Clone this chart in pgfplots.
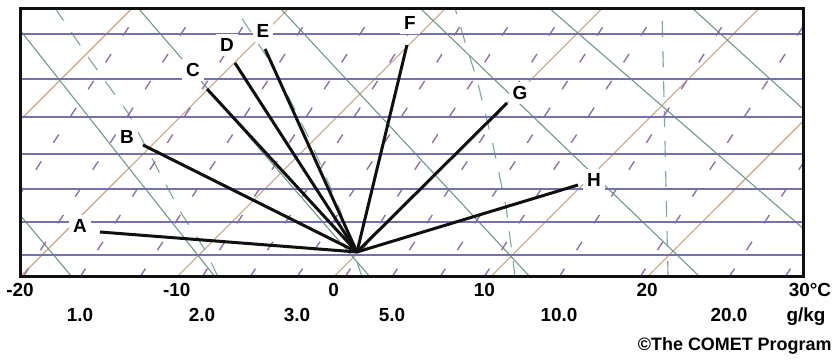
\documentclass[border=0pt]{standalone}
\usepackage{fontspec}
\setmainfont{Liberation Sans}
\usepackage{pgfplots}
\pgfplotsset{compat=1.18}
\definecolor{isobar}{HTML}{7570AE}
\definecolor{isotherm}{HTML}{C8A682}
\definecolor{dryad}{HTML}{6B9C86}
\definecolor{moistad}{HTML}{7AA894}
\definecolor{mixr}{HTML}{9070B0}
\definecolor{framecol}{HTML}{101010}
\begin{document}
\begin{tikzpicture}
\useasboundingbox (-20bp,-85bp) rectangle (816bp,277bp);
\begin{axis}[
  scale only axis, width=784bp, height=269bp,
  xmin=-20, xmax=30, ymin=0, ymax=269,
  axis line style={line width=2bp, framecol},
  ytick=\empty,
  xtick={-20,-10,0,10,20,30},
  xticklabels={-20,-10,0,10\hspace*{12bp},20,\hspace*{12bp}30°C},
  major tick length=0pt,
  tick label style={font=\fontsize{19}{19}\selectfont\bfseries, yshift=-3bp},
  /pgf/number format/assume math mode=true,
  extra x ticks={-16.17,-8.39,-2.33,3.72,14.38,25.22},
  extra x tick labels={1.0,2.0,3.0,5.0,10.0,20.0},
  extra x tick style={major tick length=0pt, tick label style={yshift=-25bp}},
  iso/.style={isotherm, line width=1.1bp},
  dry/.style={dryad, line width=1.1bp},
  moist/.style={moistad, line width=1.1bp, dash pattern=on 16bp off 14bp},
  mix/.style={mixr, line width=1.4bp, dash pattern=on 10bp off 22bp},
  bar/.style={isobar, line width=1.8bp},
  fan/.style={framecol, line width=3bp},
]
% isotherms (skewed)
\addplot[iso] coordinates {(-30,0) (-12.84,269)};
\addplot[iso] coordinates {(-20,0) (-2.84,269)};
\addplot[iso] coordinates {(-10,0) (7.16,269)};
\addplot[iso] coordinates {(0,0) (17.16,269)};
\addplot[iso] coordinates {(10,0) (27.16,269)};
\addplot[iso] coordinates {(20,0) (37.16,269)};
% dry adiabats
\addplot[dry] coordinates {(-31.10,269) (-16.68,0)};
\addplot[dry] coordinates {(-21.11,269) (-7.56,0)};
\addplot[dry] coordinates {(-12.47,269) (2.33,0)};
\addplot[dry] coordinates {(-3.42,269) (12.53,0)};
\addplot[dry] coordinates {(5.51,269) (23.37,0)};
\addplot[dry] coordinates {(13.74,269) (33.51,0)};
\addplot[dry] coordinates {(22.86,269) (41.73,0)};
% moist adiabats
\addplot[moist] coordinates {(-7.37,0) (-8.19,27) (-9.73,64) (-11.19,107) (-13.11,164) (-15.66,220) (-17.77,269)};
\addplot[moist] coordinates {(1.81,0) (0.41,67) (-1.51,137) (-3.72,207) (-6.28,269)};
\addplot[moist] coordinates {(11.57,0) (11.44,17) (11.00,70) (10.17,132) (9.15,197) (8.44,232) (7.74,269)};
\addplot[moist] coordinates {(21.33,0) (20.94,269)};
% mixing ratio lines
\addplot[mix] coordinates {(-23.44,0) (-12.28,269)};
\addplot[mix] coordinates {(-19.81,0) (-8.65,269)};
\addplot[mix] coordinates {(-16.17,0) (-5.01,269)};
\addplot[mix] coordinates {(-12.35,0) (-1.19,269)};
\addplot[mix] coordinates {(-8.39,0) (2.77,269)};
\addplot[mix] coordinates {(-5.33,0) (5.83,269)};
\addplot[mix] coordinates {(-2.33,0) (8.83,269)};
\addplot[mix] coordinates {(0.73,0) (11.89,269)};
\addplot[mix] coordinates {(3.72,0) (14.88,269)};
\addplot[mix] coordinates {(6.78,0) (17.95,269)};
\addplot[mix] coordinates {(9.59,0) (20.75,269)};
\addplot[mix] coordinates {(14.38,0) (25.54,269)};
\addplot[mix] coordinates {(19.54,0) (30.71,269)};
\addplot[mix] coordinates {(25.22,0) (36.38,269)};
\addplot[mix] coordinates {(28.79,0) (39.95,269)};
% isobars
\addplot[bar] coordinates {(-20,243) (30,243)};
\addplot[bar] coordinates {(-20,198) (30,198)};
\addplot[bar] coordinates {(-20,160) (30,160)};
\addplot[bar] coordinates {(-20,123) (30,123)};
\addplot[bar] coordinates {(-20,88) (30,88)};
\addplot[bar] coordinates {(-20,55) (30,55)};
\addplot[bar] coordinates {(-20,22) (30,22)};
% plot frame (drawn as a plot so it is surely visible; half of it is clipped)
\addplot[framecol, line width=4bp, line join=miter] coordinates {(-20,0) (30,0) (30,269) (-20,269) (-20,0)};
% fan of lines
\addplot[fan] coordinates {(1.49,25) (-14.90,45)};
\addplot[fan] coordinates {(1.49,25) (-12.16,132)};
\addplot[fan] coordinates {(1.49,25) (-8.07,188)};
\addplot[fan] coordinates {(1.49,25) (-6.29,214)};
\addplot[fan] coordinates {(1.49,25) (-4.37,228)};
\addplot[fan] coordinates {(1.49,25) (4.68,232)};
\addplot[fan] coordinates {(1.49,25) (11.06,174)};
\addplot[fan] coordinates {(1.49,25) (15.59,92)};
\node[fill=white, inner sep=4bp, font=\fontsize{19}{19}\selectfont\bfseries] at (axis cs:-16.17,51) {A};
\node[fill=white, inner sep=4bp, font=\fontsize{19}{19}\selectfont\bfseries] at (axis cs:-13.18,140) {B};
\node[fill=white, inner sep=4bp, font=\fontsize{19}{19}\selectfont\bfseries] at (axis cs:-8.97,207) {C};
\node[fill=white, inner sep=4bp, font=\fontsize{19}{19}\selectfont\bfseries] at (axis cs:-6.80,232) {D};
\node[fill=white, inner sep=4bp, font=\fontsize{19}{19}\selectfont\bfseries] at (axis cs:-4.50,246) {E};
\node[fill=white, inner sep=4bp, font=\fontsize{19}{19}\selectfont\bfseries] at (axis cs:4.87,254) {F};
\node[fill=white, inner sep=4bp, font=\fontsize{19}{19}\selectfont\bfseries] at (axis cs:11.89,184) {G};
\node[fill=white, inner sep=4bp, font=\fontsize{19}{19}\selectfont\bfseries] at (axis cs:16.61,97) {H};
\end{axis}
\draw[line width=2bp, framecol] (0,0) rectangle (784bp,269bp);
\node[font=\fontsize{19}{19}\selectfont\bfseries] at (786bp,-40bp) {g/kg};
\node[anchor=east, font=\fontsize{18}{18}\selectfont\bfseries] at (815bp,-69bp) {©The COMET Program};
\end{tikzpicture}
\end{document}
